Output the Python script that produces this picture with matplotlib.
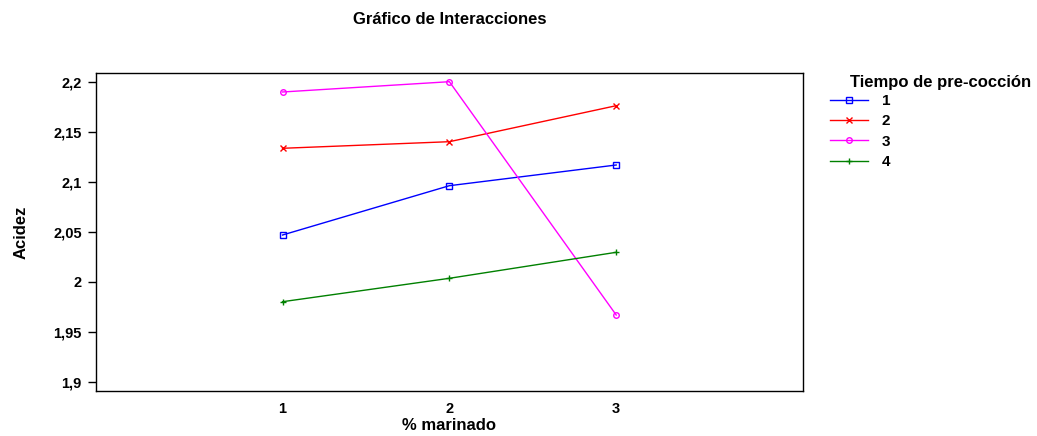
import matplotlib.pyplot as plt
from matplotlib.ticker import FuncFormatter

plt.rcParams['font.family'] = ['Liberation Sans', 'DejaVu Sans']
plt.rcParams['font.weight'] = 'bold'

# data
marinado = [1, 2, 3]
tiempo_labels = ['1', '2', '3', '4']
acidez_1 = [2.0467, 2.096, 2.1167]
acidez_2 = [2.1334, 2.140, 2.176]
acidez_3 = [2.1897, 2.200, 1.9667]
acidez_4 = [1.980, 2.0034, 2.0294]
y_ticks = [1.9, 1.95, 2.0, 2.05, 2.1, 2.15, 2.2]

series = [acidez_1, acidez_2, acidez_3, acidez_4]
colors = ['#0000ff', '#ff0000', '#ff00ff', '#008000']
markers = ['s', 'x', 'o', '+']

fig = plt.figure(figsize=(10.37, 4.36), dpi=100)
ax = fig.add_axes([0.0923, 0.1032, 0.6821, 0.7287])

for vals, c, m, lab in zip(series, colors, markers, tiempo_labels):
    ax.plot(marinado, vals, color=c, lw=1, marker=m, markersize=4,
            markerfacecolor='none', markeredgecolor=c, markeredgewidth=1, label=lab)

ax.set_xlim(-0.12, 4.12)
ax.set_ylim(1.8907, 2.2084)
ax.set_xticks(marinado)
ax.set_yticks(y_ticks)
ax.yaxis.set_major_formatter(FuncFormatter(lambda v, p: ('%g' % round(v, 2)).replace('.', ',')))
ax.tick_params(axis='x', length=0, pad=8, labelsize=10.5)
ax.tick_params(axis='y', direction='out', length=6, width=1, labelsize=10.5, pad=4)
for s in ax.spines.values():
    s.set_linewidth(1)

ax.set_xlabel('% marinado', fontsize=12, fontweight='bold', labelpad=1)
ax.set_ylabel('Acidez', fontsize=12, fontweight='bold', labelpad=18)
fig.text(0.434, 0.955, 'Gráfico de Interacciones', ha='center', va='center',
         fontsize=12, fontweight='bold')

# legend title drawn separately so it sits right of the handles like the original
fig.text(850 / 1037, 1 - 82 / 436, 'Tiempo de pre-cocción', ha='left', va='center',
         fontsize=12, fontweight='bold')
leg = fig.legend(loc='upper left', bbox_to_anchor=(830 / 1037, 1 - 94 / 436), frameon=False,
                 fontsize=11, handlelength=2.5, labelspacing=0.42, handletextpad=0.9,
                 borderpad=0, borderaxespad=0)

fig.savefig('out.png', dpi=100)
